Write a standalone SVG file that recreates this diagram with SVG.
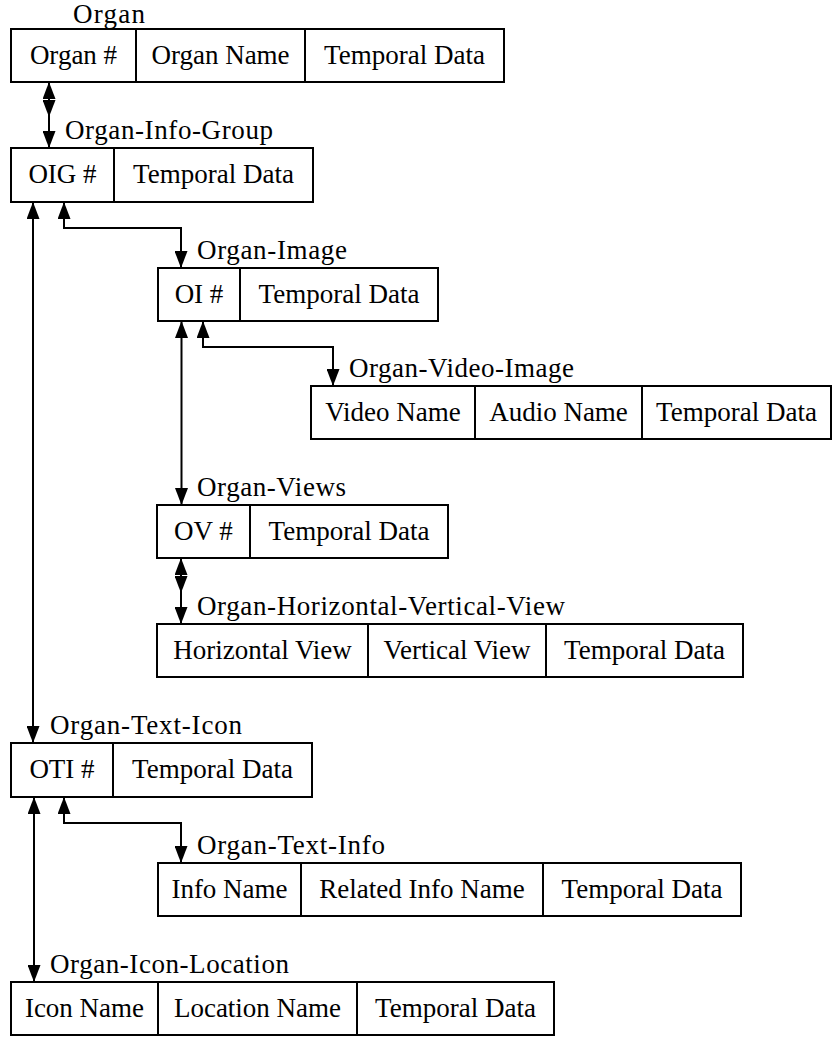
<svg xmlns="http://www.w3.org/2000/svg" width="835" height="1038" viewBox="0 0 835 1038">
  <defs>
    <marker id="ah" viewBox="0 0 17 13" refX="17" refY="6.5" markerWidth="17" markerHeight="13" markerUnits="userSpaceOnUse" orient="auto-start-reverse">
      <path d="M0,0 L17,6.5 L0,13 Z" fill="#000"/>
    </marker>
    <style>
      .box { fill: #fff; stroke: #000; stroke-width: 2; }
      .div { stroke: #000; stroke-width: 2; }
      .t { font-family: "Liberation Serif", "Noto Serif", "Times New Roman", Times, "Nimbus Roman", "DejaVu Serif", Georgia, serif; font-size: 27px; fill: #000; }
      .c { text-anchor: middle; }
      .wire { fill: none; stroke: #000; stroke-width: 2; }
      .both { marker-start: url(#ah); marker-end: url(#ah); }
      .end { marker-end: url(#ah); }
    </style>
  </defs>
  <rect width="835" height="1038" fill="#fff"/>

  <!-- connectors -->
  <g id="connectors">
    <path class="wire both" d="M49,82 V148"/>
    <path class="wire end" d="M49,100 V117"/>
    <path class="wire both" d="M64,202 V228 H181 V268"/>
    <path class="wire both" d="M33,202 V743"/>
    <path class="wire both" d="M203,321 V347 H333 V386"/>
    <path class="wire both" d="M181.5,321 V505"/>
    <path class="wire both" d="M181,558 V624"/>
    <path class="wire end" d="M181,576 V593"/>
    <path class="wire both" d="M64,797 V823 H181 V863"/>
    <path class="wire both" d="M34,797 V982"/>
  </g>

  <!-- Organ -->
  <g id="organ">
    <text class="t" x="73" y="23" textLength="72" lengthAdjust="spacing">Organ</text>
    <rect class="box" x="11" y="29" width="493" height="53"/>
    <line class="div" x1="136" y1="29" x2="136" y2="82"/>
    <line class="div" x1="305" y1="29" x2="305" y2="82"/>
    <text class="t c" x="73.5" y="64">Organ #</text>
    <text class="t c" x="220.5" y="64">Organ Name</text>
    <text class="t c" x="404.5" y="64">Temporal Data</text>
  </g>

  <!-- Organ-Info-Group -->
  <g id="organ-info-group">
    <text class="t" x="65" y="139" textLength="208" lengthAdjust="spacing">Organ-Info-Group</text>
    <rect class="box" x="11" y="148" width="302" height="54"/>
    <line class="div" x1="114" y1="148" x2="114" y2="202"/>
    <text class="t c" x="62.5" y="183">OIG #</text>
    <text class="t c" x="213.5" y="183">Temporal Data</text>
  </g>

  <!-- Organ-Image -->
  <g id="organ-image">
    <text class="t" x="197" y="259" textLength="150" lengthAdjust="spacing">Organ-Image</text>
    <rect class="box" x="158" y="268" width="280" height="53"/>
    <line class="div" x1="240" y1="268" x2="240" y2="321"/>
    <text class="t c" x="199" y="303">OI #</text>
    <text class="t c" x="339" y="303">Temporal Data</text>
  </g>

  <!-- Organ-Video-Image -->
  <g id="organ-video-image">
    <text class="t" x="349" y="377" textLength="225" lengthAdjust="spacing">Organ-Video-Image</text>
    <rect class="box" x="311" y="386" width="520" height="53"/>
    <line class="div" x1="475" y1="386" x2="475" y2="439"/>
    <line class="div" x1="642" y1="386" x2="642" y2="439"/>
    <text class="t c" x="393" y="421">Video Name</text>
    <text class="t c" x="558.5" y="421">Audio Name</text>
    <text class="t c" x="736.5" y="421">Temporal Data</text>
  </g>

  <!-- Organ-Views -->
  <g id="organ-views">
    <text class="t" x="197" y="496" textLength="149" lengthAdjust="spacing">Organ-Views</text>
    <rect class="box" x="157" y="505" width="291" height="53"/>
    <line class="div" x1="250" y1="505" x2="250" y2="558"/>
    <text class="t c" x="203.5" y="540">OV #</text>
    <text class="t c" x="349" y="540">Temporal Data</text>
  </g>

  <!-- Organ-Horizontal-Vertical-View -->
  <g id="organ-horizontal-vertical-view">
    <text class="t" x="197" y="615" textLength="368" lengthAdjust="spacing">Organ-Horizontal-Vertical-View</text>
    <rect class="box" x="157" y="624" width="586" height="53"/>
    <line class="div" x1="368" y1="624" x2="368" y2="677"/>
    <line class="div" x1="546" y1="624" x2="546" y2="677"/>
    <text class="t c" x="262.5" y="659">Horizontal View</text>
    <text class="t c" x="457" y="659">Vertical View</text>
    <text class="t c" x="644.5" y="659">Temporal Data</text>
  </g>

  <!-- Organ-Text-Icon -->
  <g id="organ-text-icon">
    <text class="t" x="50" y="734" textLength="192" lengthAdjust="spacing">Organ-Text-Icon</text>
    <rect class="box" x="11" y="743" width="301" height="54"/>
    <line class="div" x1="113" y1="743" x2="113" y2="797"/>
    <text class="t c" x="62" y="778">OTI #</text>
    <text class="t c" x="212.5" y="778">Temporal Data</text>
  </g>

  <!-- Organ-Text-Info -->
  <g id="organ-text-info">
    <text class="t" x="197" y="854" textLength="188" lengthAdjust="spacing">Organ-Text-Info</text>
    <rect class="box" x="158" y="863" width="583" height="53"/>
    <line class="div" x1="301" y1="863" x2="301" y2="916"/>
    <line class="div" x1="543" y1="863" x2="543" y2="916"/>
    <text class="t c" x="229.5" y="898">Info Name</text>
    <text class="t c" x="422" y="898">Related Info Name</text>
    <text class="t c" x="642" y="898">Temporal Data</text>
  </g>

  <!-- Organ-Icon-Location -->
  <g id="organ-icon-location">
    <text class="t" x="50" y="973" textLength="239" lengthAdjust="spacing">Organ-Icon-Location</text>
    <rect class="box" x="11" y="982" width="543" height="53"/>
    <line class="div" x1="158" y1="982" x2="158" y2="1035"/>
    <line class="div" x1="357" y1="982" x2="357" y2="1035"/>
    <text class="t c" x="84.5" y="1017">Icon Name</text>
    <text class="t c" x="257.5" y="1017">Location Name</text>
    <text class="t c" x="455.5" y="1017">Temporal Data</text>
  </g>
</svg>
